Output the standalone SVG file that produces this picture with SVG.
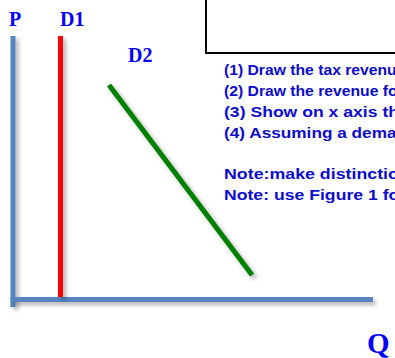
<svg xmlns="http://www.w3.org/2000/svg" width="395" height="358" viewBox="0 0 395 358">
<style>
.lbl{font-family:"Liberation Serif","Times New Roman",serif;font-weight:bold;fill:#0000ff}
.txt{font-family:"Liberation Sans",Arial,sans-serif;font-weight:bold;font-size:15px;fill:#0c0cd0}
.ln{fill:none;stroke-width:5;filter:url(#sh)}
</style>
<defs>
<filter id="sh" filterUnits="userSpaceOnUse" x="0" y="0" width="395" height="358">
<feGaussianBlur in="SourceAlpha" stdDeviation="2.2"/>
<feOffset dx="3" dy="3"/>
<feComponentTransfer><feFuncA type="linear" slope="0.3"/></feComponentTransfer>
<feMerge><feMergeNode/><feMergeNode in="SourceGraphic"/></feMerge>
</filter>
</defs>
<g id="box"><rect x="206" y="-10" width="200" height="63" fill="#fff" stroke="#000" stroke-width="2"/></g>
<g id="connectors">
<line id="y-axis" class="ln" x1="13" y1="36" x2="13" y2="307" stroke="#5584c0"/>
<line id="x-axis" class="ln" x1="10.5" y1="299.5" x2="373" y2="299.5" stroke="#5584c0"/>
<line id="D1-line" class="ln" x1="60.5" y1="36" x2="60.5" y2="297" stroke="#ff0000"/>
<line id="D2-line" class="ln" x1="109" y1="85" x2="252" y2="275" stroke="#008000"/>
</g>
<g id="labels">
<text class="lbl" x="9" y="26" font-size="20">P</text>
<text class="lbl" x="60" y="26" font-size="20">D1</text>
<text class="lbl" x="128" y="62" font-size="20">D2</text>
<text class="lbl" x="367" y="353" font-size="29">Q</text>
</g>
<g id="notes">
<text class="txt" x="224" y="74.5" textLength="172.7" lengthAdjust="spacingAndGlyphs">(1) Draw the tax revenu</text>
<text class="txt" x="224" y="95.5" textLength="173.6" lengthAdjust="spacingAndGlyphs">(2) Draw the revenue fo</text>
<text class="txt" x="224" y="116.5" textLength="175" lengthAdjust="spacingAndGlyphs">(3) Show on x axis th</text>
<text class="txt" x="224" y="137.5" textLength="172.6" lengthAdjust="spacingAndGlyphs">(4) Assuming a dema</text>
<text class="txt" x="224" y="179" textLength="174.9" lengthAdjust="spacingAndGlyphs">Note:make distinctio</text>
<text class="txt" x="224" y="200" textLength="175.3" lengthAdjust="spacingAndGlyphs">Note: use Figure 1 fo</text>
</g>
</svg>
